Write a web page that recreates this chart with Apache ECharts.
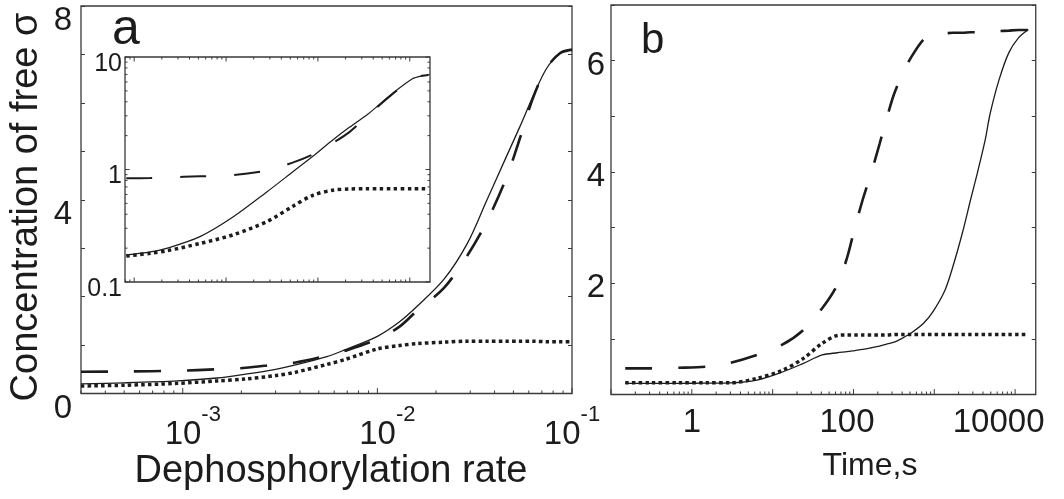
<!DOCTYPE html>
<html>
<head>
<meta charset="utf-8">
<script src="https://cdn.jsdelivr.net/npm/echarts@6/dist/echarts.min.js"></script>
<style>
  html, body { margin: 0; padding: 0; background: #fff; }
  #chart { width: 1064px; height: 499px; }
</style>
</head>
<body>
<div id="chart"></div>
<script>
// panel a: free sigma vs dephosphorylation rate (linear y)
const rateA = [3.0e-4, 5e-4, 9.4e-4, 1.5e-3, 2.1e-3, 3e-3, 3.8e-3, 5.5e-3, 6.8e-3, 1e-2, 1.3e-2, 1.6e-2, 2.2e-2, 2.9e-2, 3.65e-2, 4.6e-2, 5.4e-2, 6.3e-2, 7.4e-2, 8.7e-2, 0.1]
const solidA = [0.20, 0.22, 0.26, 0.32, 0.40, 0.50, 0.59, 0.76, 0.90, 1.18, 1.48, 1.80, 2.36, 3.10, 3.99, 4.89, 5.51, 6.13, 6.71, 7.02, 7.10]
const dashedA = [0.45, 0.455, 0.47, 0.50, 0.53, 0.60, 0.64, 0.78, 0.88, 1.12, 1.38, 1.71, 2.18, 2.85, 3.55, 4.45, 5.27, 6.10, 6.72, 7.03, 7.10]
const dottedA = [0.155, 0.17, 0.21, 0.26, 0.30, 0.37, 0.44, 0.60, 0.70, 0.92, 0.99, 1.03, 1.06, 1.08, 1.08, 1.08, 1.08, 1.08, 1.07, 1.07, 1.07]

// inset of a (log y)
const rateInset = [8.2e-5, 1.5e-4, 2.3e-4, 5.2e-4, 1.2e-3, 2.8e-3, 5.3e-3, 8.8e-3, 1.45e-2, 2.2e-2, 3.4e-2, 4.7e-2, 6.5e-2, 0.107, 0.135, 0.16]
const solidInset = [0.174, 0.185, 0.20, 0.253, 0.38, 0.635, 0.95, 1.31, 1.83, 2.37, 3.05, 3.8, 4.75, 6.4, 6.8, 6.92]
const dashedInset = [0.835, 0.84, 0.85, 0.87, 0.89, 0.98, 1.15, 1.36, 1.72, 2.15, 2.95, 3.75, 4.7, 6.4, 6.8, 6.92]
const dottedInset = [0.17, 0.18, 0.19, 0.22, 0.263, 0.345, 0.47, 0.59, 0.655, 0.67, 0.675, 0.675, 0.675, 0.675, 0.675, 0.675]

// panel b: time course
const timeB = [0.15, 0.3, 0.7, 1.5, 3, 6.4, 13, 24, 41, 63, 83, 104, 130, 167, 210, 262, 318, 400, 512, 736, 973, 1360, 1700, 2250, 2810, 3410, 4270, 4910, 6310, 8340, 11000, 14600]
const solidB = [0.20, 0.20, 0.20, 0.205, 0.21, 0.26, 0.40, 0.56, 0.71, 0.75, 0.77, 0.79, 0.81, 0.84, 0.87, 0.91, 0.94, 1.01, 1.10, 1.28, 1.50, 1.88, 2.30, 2.93, 3.50, 3.98, 4.58, 5.05, 5.65, 6.14, 6.41, 6.56]
const dashedB = [0.47, 0.47, 0.48, 0.50, 0.57, 0.71, 0.89, 1.16, 1.55, 1.97, 2.45, 3.0, 3.5, 4.0, 4.5, 5.0, 5.4, 5.75, 6.05, 6.38, 6.47, 6.49, 6.50, 6.50, 6.51, 6.51, 6.52, 6.52, 6.53, 6.54, 6.55, 6.55]
const dottedB = [0.21, 0.21, 0.21, 0.21, 0.21, 0.29, 0.43, 0.65, 0.92, 1.06, 1.07, 1.07, 1.07, 1.07, 1.07, 1.07, 1.08, 1.08, 1.08, 1.08, 1.08, 1.08, 1.08, 1.08, 1.08, 1.08, 1.08, 1.08, 1.08, 1.08, 1.08, 1.08]

// tick labels
const yLabelsA = [0, 4, 8]
const xExpA = [-3, -2, -1]
const yLabelsInset = [0.1, 1, 10]
const yLabelsB = [2, 4, 6]
const xLabelsB = [1, 100, 10000]

const font = 'Liberation Sans, Arial, Helvetica, sans-serif'
const ink = '#1c1c1c'
const boxColor = '#3a3a3a'

const zip = (xs, ys) => xs.map((x, i) => [x, ys[i]])

// 1..9 x 10^k ticks inside [lo, hi]
const logTicks = (lo, hi) => {
  const out = []
  for (let k = Math.floor(Math.log10(lo)); k <= Math.ceil(Math.log10(hi)); k++) {
    for (let m = 1; m < 10; m++) {
      const v = m * Math.pow(10, k)
      if (v >= lo * 0.999 && v <= hi * 1.001) out.push([v, m === 1 ? 1 : 0])
    }
  }
  return out
}

const isDecade = v => Math.abs(Math.log10(v) - Math.round(Math.log10(v))) < 1e-6

// custom tick marks for log axes
const xTickRender = (len, top) => (params, api) => {
  const cs = params.coordSys
  const x = api.coord([api.value(0), api.value(1)])[0]
  const l = api.value(2) ? len * 1.8 : len
  const st = { stroke: boxColor, lineWidth: 1 }
  const kids = [{ type: 'line', shape: { x1: x, y1: cs.y + cs.height, x2: x, y2: cs.y + cs.height - l }, style: st }]
  if (top) kids.push({ type: 'line', shape: { x1: x, y1: cs.y, x2: x, y2: cs.y + l }, style: st })
  return { type: 'group', children: kids }
}
const yTickRender = (len) => (params, api) => {
  const cs = params.coordSys
  const y = api.coord([api.value(0), api.value(1)])[1]
  const l = api.value(2) ? len * 1.8 : len
  const st = { stroke: boxColor, lineWidth: 1 }
  return {
    type: 'group',
    children: [
      { type: 'line', shape: { x1: cs.x, y1: y, x2: cs.x + l, y2: y }, style: st },
      { type: 'line', shape: { x1: cs.x + cs.width, y1: y, x2: cs.x + cs.width - l, y2: y }, style: st }
    ]
  }
}

const insetMin = Math.pow(10, -4.1)
const insetMax = Math.pow(10, -0.78)

const solidStyle = { color: ink, width: 1.3 }
const dashedStyle = { color: ink, width: 2.6, type: [27, 26] }
const dottedStyle = { color: ink, width: 3.5, type: [3.5, 3.2], cap: 'butt' }

const lineSeries = (name, xi, yi, data, style, z) => ({
  name, type: 'line', xAxisIndex: xi, yAxisIndex: yi, data,
  showSymbol: false, smooth: 0.3, lineStyle: style, z: z || 2, silent: true
})

const gridBox = { show: true, borderColor: boxColor, borderWidth: 1.3, backgroundColor: 'transparent' }
const noLine = { show: false }
const linTick = { show: true, inside: true, length: 4, lineStyle: { color: boxColor, width: 1 } }

// y labels pushed a little below their ticks, as in the figure
const shifted = (size, drop) => ({ v: { fontFamily: font, fontSize: size, color: ink, padding: [drop * 2, 0, 0, 0] } })

const chartInstance = echarts.init(document.getElementById('chart'))

const option = {
  animation: false,
  grid: [
    { ...gridBox, left: 81, top: 6, width: 491, height: 387.5 },
    { ...gridBox, left: 125, top: 57, width: 305, height: 225, z: 3 },
    { ...gridBox, left: 611, top: 5, width: 434, height: 389.5 }
  ],
  xAxis: [
    {
      type: 'log', gridIndex: 0, min: 3e-4, max: 0.1,
      axisLine: noLine, axisTick: { show: false }, splitLine: { show: false },
      axisLabel: {
        margin: 10,
        formatter: v => {
          if (!isDecade(v)) return ''
          const k = Math.round(Math.log10(v))
          if (xExpA.indexOf(k) < 0) return ''
          return (k === -1 ? '' : '{pad|}') + '{base|10}{sup|' + k + '}'
        },
        rich: {
          base: { fontFamily: font, fontSize: 33, color: ink, padding: [14, 0, 0, 0] },
          sup: { fontFamily: font, fontSize: 22, color: ink, padding: [0, 0, 26, 0] },
          pad: { width: 20 }
        }
      }
    },
    {
      type: 'log', gridIndex: 1, min: insetMin, max: insetMax,
      axisLine: noLine, axisTick: { show: false }, axisLabel: { show: false }, splitLine: { show: false }
    },
    {
      type: 'log', gridIndex: 2, min: 0.1, max: 18000,
      axisLine: noLine, axisTick: { show: false }, splitLine: { show: false },
      axisLabel: {
        margin: 12,
        formatter: v => {
          const hit = xLabelsB.find(t => Math.abs(v / t - 1) < 1e-6)
          if (hit === undefined) return ''
          if (hit === 1) return '{t|1}'
          if (hit === 100) return '{t|100}{p1|}'
          return '{t|10000}{p2|}'
        },
        rich: {
          t: { fontFamily: font, fontSize: 33, color: ink },
          p1: { width: 13 },
          p2: { width: 33 }
        }
      }
    }
  ],
  yAxis: [
    {
      type: 'value', gridIndex: 0, min: 0, max: 8, interval: 1,
      axisLine: noLine, axisTick: linTick, splitLine: { show: false },
      axisLabel: {
        margin: 9,
        formatter: v => (yLabelsA.indexOf(v) >= 0 ? '{v|' + v + '}' : ''),
        rich: shifted(33, 15)
      }
    },
    {
      type: 'value', gridIndex: 0, position: 'right', min: 0, max: 8, interval: 1,
      axisLine: noLine, axisTick: linTick, axisLabel: { show: false }, splitLine: { show: false }
    },
    {
      type: 'log', gridIndex: 1, min: 0.1, max: 10, z: 4,
      axisLine: noLine, axisTick: { show: false }, splitLine: { show: false },
      axisLabel: {
        margin: 3,
        formatter: v => {
          const hit = yLabelsInset.find(t => Math.abs(v / t - 1) < 1e-6)
          return hit === undefined ? '' : '{v|' + hit + '}'
        },
        rich: shifted(25, 7)
      }
    },
    {
      type: 'value', gridIndex: 2, min: 0, max: 7, interval: 1,
      axisLine: noLine, axisTick: linTick, splitLine: { show: false },
      axisLabel: {
        margin: 6,
        formatter: v => (yLabelsB.indexOf(v) >= 0 ? '{v|' + v + '}' : ''),
        rich: shifted(33, 5)
      }
    },
    {
      type: 'value', gridIndex: 2, position: 'right', min: 0, max: 7, interval: 1,
      axisLine: noLine, axisTick: linTick, axisLabel: { show: false }, splitLine: { show: false }
    }
  ],
  series: [
    lineSeries('solid a', 0, 0, zip(rateA, solidA), solidStyle),
    lineSeries('dashed a', 0, 0, zip(rateA, dashedA), dashedStyle),
    lineSeries('dotted a', 0, 0, zip(rateA, dottedA), dottedStyle),

    lineSeries('solid inset', 1, 2, zip(rateInset, solidInset), { ...solidStyle, width: 1.2 }, 5),
    lineSeries('dashed inset', 1, 2, zip(rateInset, dashedInset), { ...dashedStyle, width: 2, type: [26, 28] }, 5),
    lineSeries('dotted inset', 1, 2, zip(rateInset, dottedInset), { ...dottedStyle, type: [3.5, 3.5] }, 5),

    lineSeries('solid b', 2, 3, zip(timeB, solidB), solidStyle),
    lineSeries('dashed b', 2, 3, zip(timeB, dashedB), dashedStyle),
    lineSeries('dotted b', 2, 3, zip(timeB, dottedB), dottedStyle),

    // log-axis tick marks
    { type: 'custom', xAxisIndex: 0, yAxisIndex: 0, silent: true, z: 6, renderItem: xTickRender(3, false),
      data: logTicks(3e-4, 0.1).map(t => [t[0], 1, t[1]]) },
    { type: 'custom', xAxisIndex: 1, yAxisIndex: 2, silent: true, z: 6, renderItem: xTickRender(2.5, true),
      data: logTicks(insetMin, insetMax).map(t => [t[0], 1, t[1]]) },
    { type: 'custom', xAxisIndex: 1, yAxisIndex: 2, silent: true, z: 6, renderItem: yTickRender(2.5),
      data: logTicks(0.1, 10).map(t => [1e-3, t[0], t[1]]) },
    { type: 'custom', xAxisIndex: 2, yAxisIndex: 3, silent: true, z: 6, renderItem: xTickRender(3, false),
      data: logTicks(0.1, 18000).map(t => [t[0], 1, t[1]]) }
  ],
  graphic: [
    { type: 'text', x: 27, y: 207, rotation: Math.PI / 2,
      style: { text: 'Concentration of free σ', fontFamily: font, fontSize: 38, fill: ink, textAlign: 'center', textVerticalAlign: 'middle' } },
    { type: 'text', x: 331, y: 472,
      style: { text: 'Dephosphorylation rate', fontFamily: font, fontSize: 38, fill: ink, textAlign: 'center', textVerticalAlign: 'middle' } },
    { type: 'text', x: 870, y: 466,
      style: { text: 'Time,s', fontFamily: font, fontSize: 32, fill: ink, textAlign: 'center', textVerticalAlign: 'middle' } },
    { type: 'text', x: 112, y: 30,
      style: { text: 'a', fontFamily: font, fontSize: 50, fill: ink, textAlign: 'left', textVerticalAlign: 'middle' } },
    { type: 'text', x: 641, y: 41,
      style: { text: 'b', fontFamily: font, fontSize: 42, fill: ink, textAlign: 'left', textVerticalAlign: 'middle' } }
  ]
}

chartInstance.setOption(option)
window.addEventListener('resize', () => chartInstance.resize())
</script>
</body>
</html>
